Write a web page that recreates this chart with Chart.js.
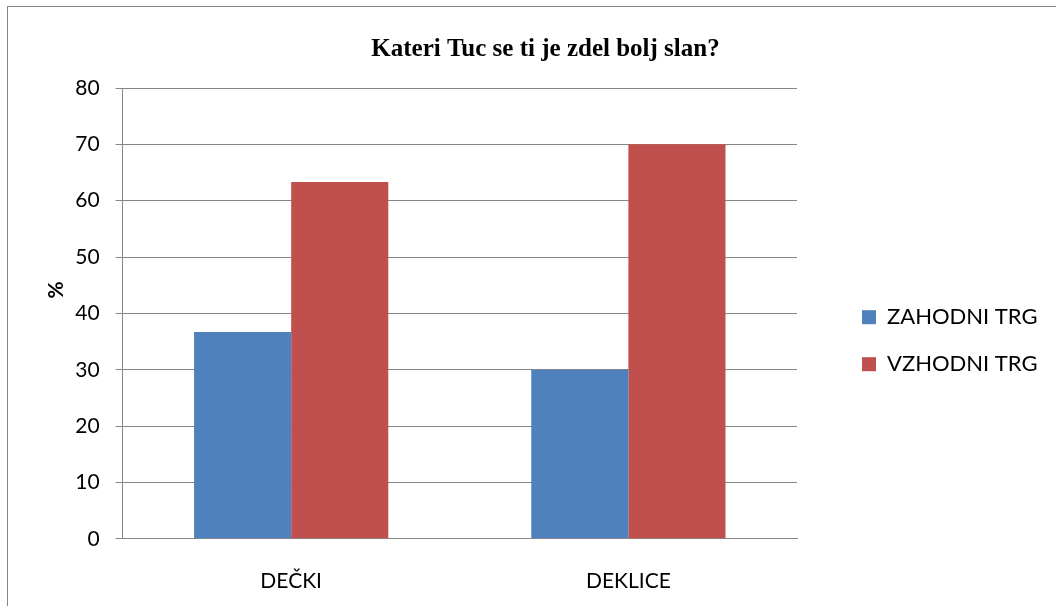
<!DOCTYPE html>
<html>
<head>
<meta charset="utf-8">
<script src="https://cdn.jsdelivr.net/npm/chart.js@4/dist/chart.umd.min.js"></script>
<style>
    html, body { margin: 0; padding: 0; background: #fff; }
    #wrap { position: relative; width: 1056px; height: 606px; overflow: hidden; }
    #frame { position: absolute; left: 7px; top: 6px; width: 1100px; height: 700px; border: 1px solid #868686; box-sizing: border-box; }
    #chart { position: absolute; left: 0; top: 0; }
</style>
</head>
<body>
<div id="wrap">
    <div id="frame"></div>
    <canvas id="chart" width="1056" height="606"></canvas>
</div>
<script>
const categories = ["DEČKI", "DEKLICE"];
const seriesNames = ["ZAHODNI TRG", "VZHODNI TRG"];
const zahodni = [36.7, 30];
const vzhodni = [63.3, 70];
const yTicks = [0, 10, 20, 30, 40, 50, 60, 70, 80];

const axisGray = "#868686";
const fontFamily = "Lato, 'Open Sans', sans-serif";

// invisible axis on the right, only keeps a gap between plot and legend
const gapAxis = {
    position: "right",
    display: false,
    afterFit: function(scale) { scale.width = 40; }
};

const chart = new Chart(document.getElementById("chart"), {
    type: "bar",
    data: {
        labels: categories,
        datasets: [
            {
                label: seriesNames[0],
                data: zahodni,
                backgroundColor: "#4F81BD",
                categoryPercentage: 0.576,
                barPercentage: 1.0
            },
            {
                label: seriesNames[1],
                data: vzhodni,
                backgroundColor: "#C0504D",
                categoryPercentage: 0.576,
                barPercentage: 1.0
            }
        ]
    },
    options: {
        responsive: false,
        animation: false,
        layout: {
            padding: { left: 44, top: 35, right: 9, bottom: 12 }
        },
        scales: {
            x: {
                grid: { display: false, drawTicks: true, tickLength: 30 },
                border: { display: true, color: axisGray, width: 1 },
                ticks: { color: "#000", font: { family: fontFamily, size: 21 }, padding: 0 }
            },
            y: {
                min: 0,
                max: 80,
                afterBuildTicks: function(scale) {
                    scale.ticks = yTicks.map(v => ({ value: v }));
                },
                grid: { color: axisGray, lineWidth: 1, tickLength: 7, drawTicks: true },
                border: { display: true, color: axisGray, width: 1 },
                ticks: { color: "#000", font: { family: fontFamily, size: 21 }, padding: 16 },
                title: {
                    display: true,
                    text: "\u2003\u2003\u2003%",
                    color: "#000",
                    font: { family: fontFamily, size: 21, weight: "bold" },
                    padding: { top: 0, bottom: -10 }
                }
            },
            gap: gapAxis
        },
        plugins: {
            title: {
                display: true,
                text: "Kateri Tuc se ti je zdel bolj slan?",
                color: "#000",
                font: { family: "'Liberation Serif', 'Times New Roman', serif", size: 25, weight: "bold" },
                padding: { top: 0, bottom: 23 }
            },
            legend: {
                position: "right",
                maxWidth: 210,
                title: { display: true, text: "", padding: 19 },
                labels: {
                    color: "#000",
                    font: { family: fontFamily, size: 22 },
                    boxWidth: 14,
                    boxHeight: 14,
                    padding: 25
                }
            },
            tooltip: { enabled: false }
        }
    }
});
</script>
</body>
</html>
